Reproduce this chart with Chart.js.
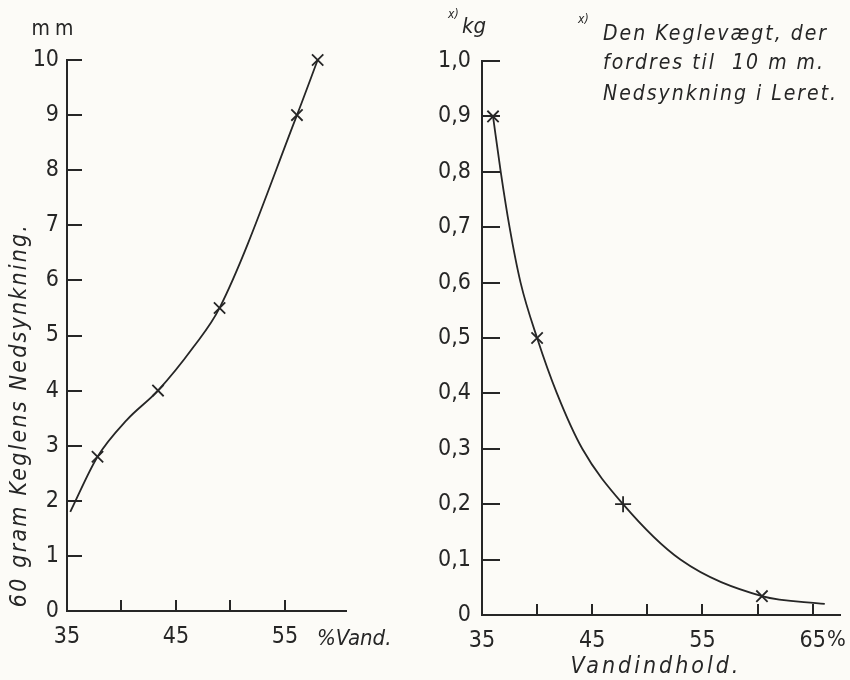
<!DOCTYPE html>
<html>
<head>
<meta charset="utf-8">
<script src="https://cdn.jsdelivr.net/npm/chart.js@4.4.1/dist/chart.umd.min.js"></script>
<style>
  body { margin: 0; background: #fcfbf7; }
  #wrap { position: relative; width: 850px; height: 680px; }
  canvas { position: absolute; top: 0; }
  #venstre { left: 0; }
  #hoejre { left: 425px; }
</style>
</head>
<body>
<div id="wrap">
  <canvas id="venstre" width="425" height="680"></canvas>
  <canvas id="hoejre" width="425" height="680"></canvas>
</div>
<script>
// venstre: 60 g keglens nedsynkning (mm) mod vandindhold (%)
const vVand = [37.8, 43.35, 49.0, 56.1, 58.0];
const vMm = [2.8, 4.0, 5.5, 9.0, 10.0];
// kurvens forloeb som aflaest paa tegningen
const vKurveX = [35.3, 37.8, 40.5, 43.35, 46.6, 49.0, 56.1, 58.0];
const vKurveY = [1.8, 2.8, 3.47, 4.0, 4.79, 5.5, 9.0, 10.0];
const vXTicks = [35, 40, 45, 50, 55];
const vXLabels = [35, 45, 55];

// hoejre: keglevaegt (kg) for 10 mm nedsynkning mod vandindhold (%)
const hVand = [36.0, 40.0, 47.8, 60.4];
const hKg = [0.9, 0.5, 0.2, 0.034];
const hKurveX = [36.0, 36.7, 37.5, 38.5, 40.0, 41.8, 44.1, 47.8, 53.0, 60.4, 66.1];
const hKurveY = [0.9, 0.8, 0.7, 0.6, 0.5, 0.4, 0.3, 0.2, 0.1, 0.034, 0.02];
const hXTicks = [35, 40, 45, 50, 55, 60, 65];
const hXLabels = [35, 45, 55, 65];

const ink = '#262626';
const tal = '"Liberation Sans Narrow", "DejaVu Sans Condensed", sans-serif';
const hand = '"DejaVu Sans Condensed", "DejaVu Sans", sans-serif';

function tekst(ctx, txt, x, y, font, opts = {}) {
  ctx.save();
  ctx.font = font;
  ctx.fillStyle = ink;
  ctx.textAlign = opts.align || 'left';
  ctx.textBaseline = opts.baseline || 'alphabetic';
  ctx.letterSpacing = (opts.spacing || 0) + 'px';
  if (opts.rotate) {
    ctx.translate(x, y);
    ctx.rotate(opts.rotate);
    ctx.fillText(txt, 0, 0);
  } else {
    ctx.fillText(txt, x, y);
  }
  ctx.restore();
}

// tickmarks tegnes ind mod diagrammet, som paa originalen
const indreStreger = {
  id: 'indreStreger',
  afterDraw(chart, args, opts) {
    const { ctx, chartArea: a, scales: { x, y } } = chart;
    ctx.save();
    ctx.strokeStyle = ink;
    ctx.lineWidth = 2;
    ctx.beginPath();
    y.ticks.forEach(t => {
      if (t.value <= y.min) return;
      const py = Math.round(y.getPixelForValue(t.value));
      ctx.moveTo(a.left, py);
      ctx.lineTo(a.left + opts.yLen, py);
    });
    x.ticks.forEach(t => {
      if (t.value <= x.min) return;
      const px = Math.round(x.getPixelForValue(t.value));
      ctx.moveTo(px, a.bottom);
      ctx.lineTo(px, a.bottom - opts.xLen);
    });
    ctx.stroke();
    ctx.restore();
    if (opts.tekster) opts.tekster(ctx, chart);
  }
};

function lavDiagram(id, cfg) {
  return new Chart(document.getElementById(id), {
    type: 'scatter',
    data: {
      datasets: [{
        data: cfg.kurveX.map((v, i) => ({ x: v, y: cfg.kurveY[i] })),
        showLine: true,
        borderColor: ink,
        borderWidth: 1.8,
        pointRadius: 0,
        cubicInterpolationMode: 'monotone',
        clip: false
      }, {
        data: cfg.punktX.map((v, i) => ({ x: v, y: cfg.punktY[i] })),
        showLine: false,
        pointStyle: cfg.punktStil,
        pointRadius: 8,
        borderColor: ink,
        borderWidth: 1.8,
        backgroundColor: ink,
        clip: false
      }]
    },
    options: {
      responsive: false,
      animation: false,
      layout: { padding: cfg.padding },
      plugins: {
        legend: { display: false },
        tooltip: { enabled: false },
        indreStreger: { yLen: cfg.yLen, xLen: 11, tekster: cfg.tekster }
      },
      scales: {
        x: {
          type: 'linear',
          min: 35,
          max: cfg.xMax,
          afterBuildTicks: s => { s.ticks = cfg.xTicks.map(v => ({ value: v })); },
          afterFit: s => { s.height = cfg.xHoejde; },
          grid: { display: true, drawOnChartArea: false, drawTicks: false },
          border: { display: true, color: ink, width: 2 },
          ticks: {
            color: ink,
            padding: 12,
            maxRotation: 0,
            autoSkip: false,
            font: { family: tal, size: 23 },
            callback: v => cfg.xLabels.includes(v) ? String(v) : ''
          }
        },
        y: {
          type: 'linear',
          min: 0,
          max: cfg.yMax,
          afterBuildTicks: s => { s.ticks = cfg.yTicks.map(v => ({ value: v })); },
          afterFit: s => { s.width = cfg.yBredde; },
          grid: { display: true, drawOnChartArea: false, drawTicks: false },
          border: { display: true, color: ink, width: 2 },
          ticks: {
            color: ink,
            padding: cfg.yPad,
            autoSkip: false,
            font: { family: tal, size: 23 },
            callback: cfg.yFormat
          }
        }
      }
    },
    plugins: [indreStreger]
  });
}

const vYTicks = [0, 1, 2, 3, 4, 5, 6, 7, 8, 9, 10];
const hYTicks = [0, 0.1, 0.2, 0.3, 0.4, 0.5, 0.6, 0.7, 0.8, 0.9, 1.0];

lavDiagram('venstre', {
  kurveX: vKurveX, kurveY: vKurveY,
  punktX: vVand, punktY: vMm,
  punktStil: 'crossRot',
  xMax: 60.6, yMax: 10,
  xTicks: vXTicks, xLabels: vXLabels, yTicks: vYTicks,
  yFormat: v => String(v),
  padding: { top: 60, right: 79, left: 0, bottom: 0 },
  yBredde: 67, xHoejde: 69, yPad: 8, yLen: 15,
  tekster: (ctx, chart) => {
    tekst(ctx, 'mm', 55, 35, '21px ' + hand, { align: 'center', spacing: 5 });
    tekst(ctx, '60 gram Keglens Nedsynkning.', 20, 415, 'oblique 23px ' + hand,
      { align: 'center', baseline: 'middle', spacing: 2.2, rotate: -Math.PI / 2 });
    tekst(ctx, '%Vand.', 317, 645, 'oblique 22px ' + hand);
  }
});

lavDiagram('hoejre', {
  kurveX: hKurveX, kurveY: hKurveY,
  punktX: hVand, punktY: hKg,
  punktStil: ['crossRot', 'crossRot', 'cross', 'crossRot'],
  xMax: 67.5, yMax: 1.0,
  xTicks: hXTicks, xLabels: hXLabels, yTicks: hYTicks,
  yFormat: v => v === 0 ? '0' : v.toFixed(1).replace('.', ','),
  padding: { top: 61, right: 7, left: 0, bottom: 0 },
  yBredde: 57, xHoejde: 65, yPad: 11, yLen: 18,
  tekster: (ctx, chart) => {
    tekst(ctx, 'x)', 23, 18, 'oblique 12px ' + hand);
    tekst(ctx, 'kg', 37, 33, 'oblique 22px ' + hand);
    tekst(ctx, 'x)', 153, 23, 'oblique 12px ' + hand);
    tekst(ctx, 'Den Keglevægt, der', 178, 40, 'oblique 21px ' + hand, { spacing: 2 });
    tekst(ctx, 'fordres til  10 m m.', 178, 69, 'oblique 21px ' + hand, { spacing: 2 });
    tekst(ctx, 'Nedsynkning i Leret.', 178, 100, 'oblique 21px ' + hand, { spacing: 2 });
    tekst(ctx, '%', 402, 646, '22px ' + tal);
    tekst(ctx, 'Vandindhold.', 231, 673, 'oblique 23px ' + hand, { align: 'center', spacing: 3 });
  }
});
</script>
</body>
</html>
